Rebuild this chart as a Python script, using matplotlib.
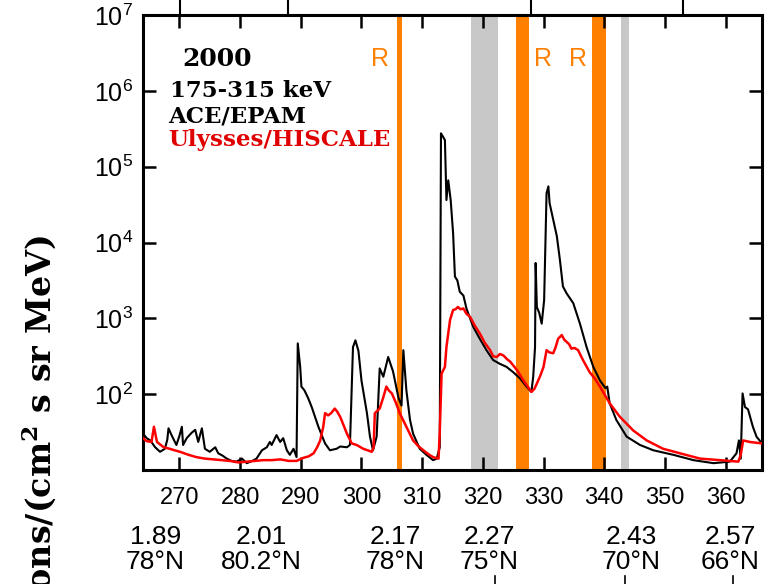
import numpy as np
import matplotlib
matplotlib.use('Agg')
import matplotlib.pyplot as plt
from matplotlib.ticker import FixedLocator, NullLocator, LogFormatterMathtext

plt.rcParams['font.family'] = ['Liberation Sans', 'DejaVu Sans']

# ACE/EPAM 175-315 keV (day of year, log10 flux)
ace_day = [264.0, 264.6, 265.2, 266.0, 266.8, 267.6, 268.0, 268.2, 268.7, 269.5,
           270.0, 270.4, 270.6, 271.2, 272.0, 272.6, 273.1, 273.7, 274.2, 275.0,
           275.9, 276.4, 277.1, 277.8, 278.6, 279.4, 280.3, 281.1, 282.0, 282.7,
           283.6, 284.4, 284.9, 285.2, 286.0, 286.6, 287.1, 287.7, 288.2, 288.8,
           289.3, 289.5, 289.9, 290.1, 290.6, 291.2, 291.8, 292.9, 294.0, 294.8,
           295.9, 296.5, 297.6, 298.1, 298.6, 299.0, 299.5, 300.0, 300.9, 301.4,
           301.9, 302.5, 303.0, 303.6, 304.4, 305.2, 306.1, 306.6, 306.9, 307.4,
           308.0, 308.5, 309.6, 310.7, 311.8, 312.4, 312.9, 313.1, 313.4, 313.75,
           314.0, 314.3, 314.7, 315.1, 315.4, 315.8, 316.2, 316.8, 317.3, 318.4,
           319.5, 320.6, 321.7, 322.8, 323.9, 325.0, 326.1, 327.2, 328.0, 328.3,
           328.6, 328.7, 328.9, 329.3, 329.7, 330.1, 330.5, 330.8, 331.0, 331.6,
           332.2, 332.7, 333.2, 333.8, 334.9, 336.0, 337.1, 338.2, 339.3, 340.2,
           340.5, 340.9, 342.0, 343.7, 345.9, 348.1, 351.4, 354.7, 358.0, 360.7,
           361.8, 362.2, 362.5, 362.8, 363.2, 363.7, 364.5, 365.1, 366.0]
ace_logflux = [1.48, 1.42, 1.39, 1.30, 1.24, 1.28, 1.40, 1.55, 1.46, 1.33,
               1.45, 1.57, 1.33, 1.42, 1.49, 1.53, 1.37, 1.55, 1.28, 1.24,
               1.30, 1.22, 1.19, 1.15, 1.12, 1.11, 1.15, 1.09, 1.12, 1.15,
               1.26, 1.30, 1.37, 1.33, 1.46, 1.37, 1.42, 1.26, 1.20, 1.28,
               1.17, 2.67, 2.36, 2.10, 2.05, 1.95, 1.83, 1.57, 1.35, 1.26,
               1.28, 1.31, 1.30, 1.33, 2.62, 2.71, 2.57, 2.18, 1.75, 1.44,
               1.26, 1.44, 2.34, 2.23, 2.49, 2.30, 1.95, 1.85, 2.58, 2.05,
               1.66, 1.48, 1.28, 1.20, 1.13, 1.15, 1.30, 5.44, 5.40, 5.35,
               4.56, 4.82, 4.56, 4.12, 3.55, 3.50, 3.35, 3.30, 3.13, 2.89,
               2.73, 2.58, 2.45, 2.40, 2.36, 2.29, 2.21, 2.10, 2.03, 2.23,
               2.62, 3.73, 3.15, 3.07, 2.93, 3.24, 4.65, 4.74, 4.52, 4.30,
               4.08, 3.77, 3.42, 3.33, 3.20, 2.93, 2.62, 2.36, 2.18, 2.08,
               2.10, 1.88, 1.66, 1.44, 1.33, 1.26, 1.20, 1.13, 1.09, 1.11,
               1.22, 1.39, 1.15, 2.01, 1.83, 1.80, 1.57, 1.44, 1.35]

# Ulysses/HISCALE (day of year, log10 flux)
uly_day = [264.0, 264.6, 265.4, 265.8, 266.3, 267.4, 268.4, 269.2, 270.1, 271.5,
           272.8, 274.2, 275.6, 277.0, 278.3, 279.7, 281.1, 282.5, 283.8, 285.2,
           286.6, 288.0, 289.3, 290.4, 291.3, 292.1, 292.7, 293.2, 293.7, 294.0,
           294.5, 295.0, 295.6, 296.0, 296.5, 297.0, 297.6, 298.4, 299.2, 300.3,
           301.0, 301.7, 302.0, 302.2, 303.0, 303.6, 304.1, 304.5, 305.0, 305.6,
           306.3, 307.4, 308.5, 309.3, 310.2, 311.0, 311.8, 312.7, 312.9, 313.2,
           313.75, 314.0, 314.6, 315.1, 315.5, 315.9, 316.3, 316.8, 317.3, 317.9,
           318.7, 319.5, 320.3, 321.2, 321.7, 322.3, 322.8, 323.4, 324.0, 324.5,
           325.6, 326.7, 327.4, 328.0, 328.5, 328.9, 329.5, 330.0, 330.5, 331.0,
           331.6, 332.0, 332.4, 333.0, 333.4, 333.8, 334.2, 334.6, 335.1, 335.7,
           336.5, 337.6, 338.5, 339.3, 340.1, 340.9, 342.6, 344.8, 347.0, 349.7,
           352.5, 355.8, 359.1, 362.1, 362.5, 362.9, 364.0, 366.0]
uly_logflux = [1.42, 1.38, 1.37, 1.57, 1.37, 1.30, 1.28, 1.26, 1.24, 1.20,
               1.17, 1.15, 1.14, 1.13, 1.12, 1.10, 1.11, 1.12, 1.13, 1.13,
               1.14, 1.12, 1.12, 1.16, 1.18, 1.22, 1.30, 1.39, 1.57, 1.75,
               1.72, 1.75, 1.81, 1.77, 1.70, 1.60, 1.48, 1.35, 1.33, 1.28,
               1.26, 1.24, 1.30, 1.75, 1.81, 1.96, 2.10, 2.05, 2.01, 1.90,
               1.75, 1.57, 1.39, 1.32, 1.26, 1.21, 1.17, 1.15, 1.50, 2.27,
               2.36, 2.62, 2.98, 3.11, 3.12, 3.15, 3.12, 3.13, 3.06, 3.02,
               2.90, 2.80, 2.68, 2.58, 2.50, 2.49, 2.53, 2.51, 2.46, 2.43,
               2.32, 2.18, 2.10, 2.03, 2.07, 2.14, 2.25, 2.36, 2.58, 2.55,
               2.54, 2.62, 2.73, 2.78, 2.72, 2.69, 2.66, 2.60, 2.61, 2.58,
               2.45, 2.29, 2.20, 2.10, 1.99, 1.88, 1.70, 1.52, 1.39, 1.28,
               1.22, 1.15, 1.13, 1.11, 1.20, 1.39, 1.37, 1.35]

# shaded intervals (day ranges)
orange_bands = [(305.9, 306.7), (325.4, 327.6), (338.0, 340.3)]
gray_bands = [(318.0, 322.5), (342.7, 344.1)]
r_marks = [303.0, 329.9, 335.7]

# heliocentric distance / latitude labels
pos_days = [266.0, 283.5, 305.5, 321.0, 344.4, 360.7]
pos_dist = ['1.89', '2.01', '2.17', '2.27', '2.43', '2.57']
pos_lat = ['78°N', '80.2°N', '78°N', '75°N', '70°N', '66°N']

# tick marks of neighbouring panels visible at the crop edges
upper_ticks = [270.1, 287.9, 327.9, 353.0]
lower_ticks = [322.0, 343.5, 361.3]

fig = plt.figure(figsize=(7.71, 5.84), dpi=100)
ax = fig.add_axes([0.1855, 0.1952, 0.8028, 0.7791])

for a, b in gray_bands:
    ax.axvspan(a, b, color='#c8c8c8', lw=0, zorder=1)
for a, b in orange_bands:
    ax.axvspan(a, b, color='#ff8000', lw=0, zorder=1)

ax.plot(ace_day, 10 ** np.array(ace_logflux), color='black', lw=1.5, zorder=3)
ax.plot(uly_day, 10 ** np.array(uly_logflux), color='#ff0000', lw=1.8, zorder=4)

ax.set_yscale('log')
ax.set_xlim(264, 366)
ax.set_ylim(10, 1e7)
ax.yaxis.set_major_locator(FixedLocator([1e2, 1e3, 1e4, 1e5, 1e6, 1e7]))
ax.yaxis.set_major_formatter(LogFormatterMathtext())
ax.yaxis.set_minor_locator(NullLocator())
ax.set_xticks(range(270, 361, 10))

ax.tick_params(axis='both', which='major', direction='in', length=9.5, width=1.8,
               top=True, right=True)
ax.tick_params(axis='x', labelsize=17, pad=12)
ax.tick_params(axis='y', labelsize=18, pad=7)
for s in ax.spines.values():
    s.set_linewidth(2.2)

# legend text
serif = dict(family='DejaVu Serif', weight='bold', va='center',
             transform=ax.transAxes)
ax.text(0.063, 0.903, '2000', color='black', fontsize=18, **serif)
ax.text(0.043, 0.833, '175-315 keV', color='black', fontsize=16.5, **serif)
ax.text(0.040, 0.776, 'ACE/EPAM', color='black', fontsize=16.5, **serif)
ax.text(0.040, 0.726, 'Ulysses/HISCALE', color='#e00000', fontsize=16.5, **serif)

for d in r_marks:
    ax.text(d, 0.903, 'R', color='#ff8000', fontsize=18, ha='center', va='center',
            transform=ax.get_xaxis_transform())

for d, r, lat in zip(pos_days, pos_dist, pos_lat):
    ax.text(d, -0.148, r, fontsize=19, ha='center', va='center',
            transform=ax.get_xaxis_transform(), clip_on=False)
    ax.text(d, -0.203, lat, fontsize=19, ha='center', va='center',
            transform=ax.get_xaxis_transform(), clip_on=False)

for d in upper_ticks:
    ax.plot([d, d], [1.0, 1.04], color='black', lw=1.5,
            transform=ax.get_xaxis_transform(), clip_on=False)
for d in lower_ticks:
    ax.plot([d, d], [-0.232, -0.26], color='black', lw=1.2,
            transform=ax.get_xaxis_transform(), clip_on=False)

fig.text(0.076, 1 - 235 / 584,
         r'Electrons/(cm$^{\mathdefault{2}}$ s sr MeV)',
         family='DejaVu Serif', weight='bold', fontsize=24,
         rotation=90, ha='right', va='top')

fig.savefig('out.png', dpi=100)
